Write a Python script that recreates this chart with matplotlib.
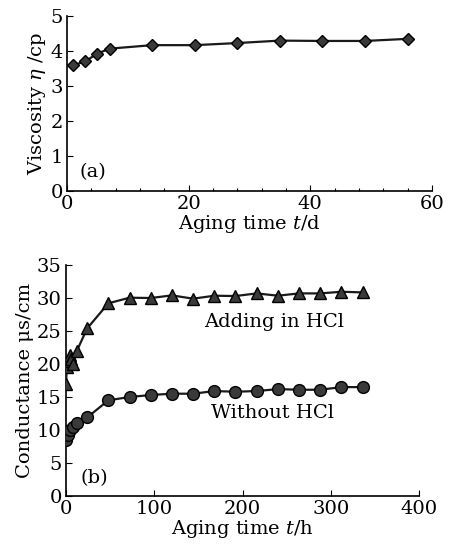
import matplotlib
matplotlib.use("Agg")
import matplotlib.pyplot as plt
from matplotlib.ticker import MultipleLocator

plt.rcParams['font.family'] = ['DejaVu Serif']
plt.rcParams['mathtext.fontset'] = 'dejavuserif'

# (a) viscosity vs aging time (days)
visc_days = [1, 3, 5, 7, 14, 21, 28, 35, 42, 49, 56]
visc_vals = [3.59, 3.71, 3.93, 4.07, 4.17, 4.17, 4.23, 4.30, 4.29, 4.29, 4.35]

# (b) conductance vs aging time (hours)
hcl_hours = [0, 1, 2, 4, 6, 8, 12, 24, 48, 72, 96, 120, 144, 168, 192, 216, 240, 264, 288, 312, 336]
hcl_vals = [17.0, 19.5, 20.5, 21.3, 20.8, 20.0, 21.9, 25.4, 29.2, 30.05, 30.0, 30.4, 29.9, 30.35,
            30.3, 30.7, 30.35, 30.7, 30.7, 30.95, 30.85]
nohcl_hours = [0, 2, 4, 8, 12, 24, 48, 72, 96, 120, 144, 168, 192, 216, 240, 264, 288, 312, 336]
nohcl_vals = [8.45, 9.2, 10.0, 10.5, 11.0, 11.9, 14.5, 15.0, 15.3, 15.5, 15.5, 15.9, 15.8, 15.9,
              16.2, 16.1, 16.1, 16.5, 16.5]

fig = plt.figure(figsize=(4.51, 5.46), dpi=100)
ax1 = fig.add_axes([0.1486, 0.650, 0.809, 0.3205])
ax2 = fig.add_axes([0.1463, 0.0916, 0.783, 0.423])

# dark markers with a lighter edge dot look, like the scanned figure
line_kw = dict(color='#1a1a1a', linewidth=1.6, markeredgecolor='black',
               markerfacecolor='#3a3a3a', markeredgewidth=1.0, zorder=3)

ax1.plot(visc_days, visc_vals, marker='D', markersize=6.5, **line_kw)
ax1.set_xlim(0, 60)
ax1.set_ylim(0, 5)
ax1.xaxis.set_major_locator(MultipleLocator(20))
ax1.xaxis.set_minor_locator(MultipleLocator(4))
ax1.yaxis.set_major_locator(MultipleLocator(1))
ax1.set_xlabel('Aging time $t$/d', fontsize=14, labelpad=0)
ax1.set_ylabel('Viscosity $\\eta$ /cp', fontsize=14, labelpad=2)
ax1.text(2.0, 0.55, '(a)', fontsize=14, va='center')

ax2.plot(hcl_hours, hcl_vals, marker='^', markersize=8.5, **line_kw)
ax2.plot(nohcl_hours, nohcl_vals, marker='o', markersize=8.5, **line_kw)
ax2.set_xlim(0, 400)
ax2.set_ylim(0, 35)
ax2.xaxis.set_major_locator(MultipleLocator(100))
ax2.yaxis.set_major_locator(MultipleLocator(5))
ax2.set_xlabel('Aging time $t$/h', fontsize=14, labelpad=0)
ax2.set_ylabel('Conductance \u03bcs/cm', fontsize=14, labelpad=2)
ax2.text(236, 26.4, 'Adding in HCl', fontsize=14, ha='center', va='center')
ax2.text(234, 12.6, 'Without HCl', fontsize=14, ha='center', va='center')
ax2.text(16, 2.7, '(b)', fontsize=14, va='center')

for ax in (ax1, ax2):
    ax.spines['top'].set_visible(False)
    ax.spines['right'].set_visible(False)
    ax.spines['left'].set_linewidth(1.2)
    ax.spines['bottom'].set_linewidth(1.2)
    ax.tick_params(which='major', direction='in', length=4, width=0.8, labelsize=14, pad=3)
    ax.tick_params(which='minor', direction='in', length=2, width=0.8)

fig.savefig('out.png', dpi=100)
